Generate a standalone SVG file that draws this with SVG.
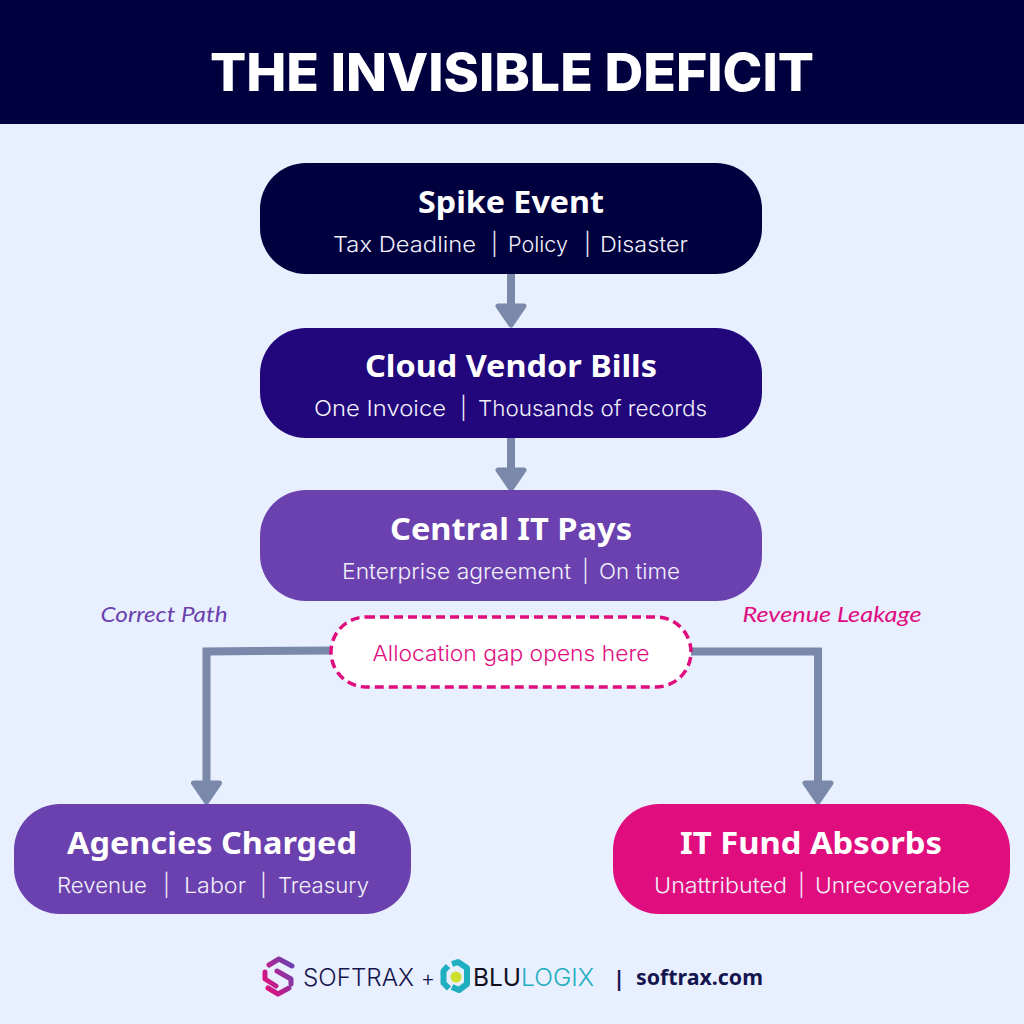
<svg xmlns="http://www.w3.org/2000/svg" width="1024" height="1024" viewBox="0 0 1024 1024">
<defs>
<style>
.t{font-family:"Noto Sans","Lato",sans-serif;font-weight:700;font-size:31px;fill:#fff;text-anchor:middle}
.s{font-family:"Inter","Lato",sans-serif;font-weight:300;font-size:22px;fill:#f1effa}
.c{fill:none;stroke:#7a89aa;stroke-width:8}
.h{fill:#7a89aa;stroke:#7a89aa;stroke-width:5;stroke-linejoin:round}
.l{font-family:"Lato","Noto Sans",sans-serif;font-size:21px;font-weight:400;font-style:italic;text-anchor:middle}
.g{fill:none;stroke:url(#g);stroke-width:5;stroke-linecap:round;stroke-linejoin:round}
.b{fill:none;stroke:#20aec1;stroke-width:6;stroke-linejoin:round}
</style>
<linearGradient id="g" gradientUnits="userSpaceOnUse" x1="264" y1="985" x2="294" y2="968"><stop offset="0" stop-color="#e0107f"/><stop offset="1" stop-color="#6a41ae"/></linearGradient>
</defs>
<rect width="1024" height="1024" fill="#e8effe"/>
<g id="header"><rect width="1024" height="124" fill="#00003f"/>
<text x="512" y="91" font-family="Inter,'Noto Sans',sans-serif" font-weight="800" font-size="52" fill="#fff" text-anchor="middle" textLength="604" lengthAdjust="spacingAndGlyphs">THE INVISIBLE DEFICIT</text></g>
<g id="connectors">
<path class="c" d="M511 274V306"/><path class="h" d="M498 306H524L511 325Z"/>
<path class="c" d="M511 438V470"/><path class="h" d="M498 470H524L511 489Z"/>
<path class="c" d="M331 650.500L206.500 651.500V783"/><path class="h" d="M193.500 783H219.500L206.500 802Z"/>
<path class="c" d="M691 651.500H818V783"/><path class="h" d="M805 783H831L818 802Z"/>
</g>
<g id="spike"><rect x="260" y="163" width="502" height="111" rx="46" fill="#00003f"/>
<text class="t" x="511" y="213" textLength="186" lengthAdjust="spacingAndGlyphs">Spike Event</text>
<text class="s" x="333" y="252" textLength="143" lengthAdjust="spacingAndGlyphs">Tax Deadline</text><text class="s" x="491" y="252">|</text>
<text class="s" x="508" y="252" textLength="60" lengthAdjust="spacingAndGlyphs">Policy</text><text class="s" x="584" y="252">|</text>
<text class="s" x="600" y="252" textLength="88" lengthAdjust="spacingAndGlyphs">Disaster</text></g>
<g id="cloud"><rect x="260" y="328" width="502" height="110" rx="46" fill="#22067c"/>
<text class="t" x="511" y="377" textLength="292" lengthAdjust="spacingAndGlyphs">Cloud Vendor Bills</text>
<text class="s" x="314" y="416" textLength="132" lengthAdjust="spacingAndGlyphs">One Invoice</text><text class="s" x="460" y="416">|</text>
<text class="s" x="478" y="416" textLength="229" lengthAdjust="spacingAndGlyphs">Thousands of records</text></g>
<g id="central"><rect x="260" y="490" width="502" height="111" rx="46" fill="#6a41ae"/>
<text class="t" x="511" y="540" textLength="242" lengthAdjust="spacingAndGlyphs">Central IT Pays</text>
<text class="s" x="342" y="579" textLength="229" lengthAdjust="spacingAndGlyphs">Enterprise agreement</text><text class="s" x="582" y="579">|</text>
<text class="s" x="599" y="579" textLength="81" lengthAdjust="spacingAndGlyphs">On time</text></g>
<g id="gap"><rect x="331" y="617" width="360" height="70" rx="35" fill="#fff" stroke="#e00d7f" stroke-width="3.500" stroke-dasharray="9 5"/>
<text x="511" y="661" font-family="Inter,Lato,sans-serif" font-weight="300" font-size="22" fill="#e00d7f" text-anchor="middle" textLength="277" lengthAdjust="spacingAndGlyphs">Allocation gap opens here</text></g>
<text class="l" x="164" y="622" fill="#6a41ae" textLength="127" lengthAdjust="spacingAndGlyphs">Correct Path</text>
<text class="l" x="832" y="622" fill="#e00d7f" textLength="179" lengthAdjust="spacingAndGlyphs">Revenue Leakage</text>
<g id="agencies"><rect x="14" y="804" width="397" height="110" rx="46" fill="#6a41ae"/>
<text class="t" x="212" y="854" textLength="290" lengthAdjust="spacingAndGlyphs">Agencies Charged</text>
<text class="s" x="57" y="893" textLength="90" lengthAdjust="spacingAndGlyphs">Revenue</text><text class="s" x="163" y="893">|</text>
<text class="s" x="184" y="893" textLength="62" lengthAdjust="spacingAndGlyphs">Labor</text><text class="s" x="260" y="893">|</text>
<text class="s" x="278" y="893" textLength="91" lengthAdjust="spacingAndGlyphs">Treasury</text></g>
<g id="itfund"><rect x="613" y="804" width="397" height="110" rx="46" fill="#e00d7f"/>
<text class="t" x="811" y="854" textLength="262" lengthAdjust="spacingAndGlyphs">IT Fund Absorbs</text>
<text class="s" x="654" y="893" textLength="133" lengthAdjust="spacingAndGlyphs">Unattributed</text><text class="s" x="798" y="893">|</text>
<text class="s" x="815" y="893" textLength="155" lengthAdjust="spacingAndGlyphs">Unrecoverable</text></g>
<g id="logos">
<path class="g" d="M269 965L279 959L292 966"/>
<path class="g" d="M265 972V979L276 986"/>
<path class="g" d="M277 971L291 979V984"/>
<path class="g" d="M268 988L278 994L289 988"/>
<text x="303" y="986" font-family="Inter,'Liberation Sans',sans-serif" font-weight="300" font-size="24" fill="#14144f" textLength="111" lengthAdjust="spacingAndGlyphs">SOFTRAX</text>
<text x="428" y="986" font-family="Inter,sans-serif" font-weight="300" font-size="22" fill="#14144f" text-anchor="middle">+</text>
<path class="b" d="M448 966L443.500 971V983L449 988.500"/>
<path class="b" d="M452 964L458 962L467 968V984L459 990L452 987"/>
<circle cx="456" cy="977" r="5.500" fill="#cfe02c"/>
<text x="473" y="986" font-family="Inter,'Liberation Sans',sans-serif" font-weight="400" font-size="24" fill="#101020" textLength="48" lengthAdjust="spacingAndGlyphs">BLU</text>
<text x="521" y="986" font-family="Inter,'Liberation Sans',sans-serif" font-weight="300" font-size="24" fill="#20aec1" textLength="73" lengthAdjust="spacingAndGlyphs">LOGIX</text>
<text x="619" y="986" font-family="'Noto Sans',sans-serif" font-weight="700" font-size="21" fill="#14144f" text-anchor="middle">|</text>
<text x="636" y="985" font-family="'Noto Sans',sans-serif" font-weight="700" font-size="21" fill="#14144f" textLength="127" lengthAdjust="spacingAndGlyphs">softrax.com</text>
</g>
</svg>
